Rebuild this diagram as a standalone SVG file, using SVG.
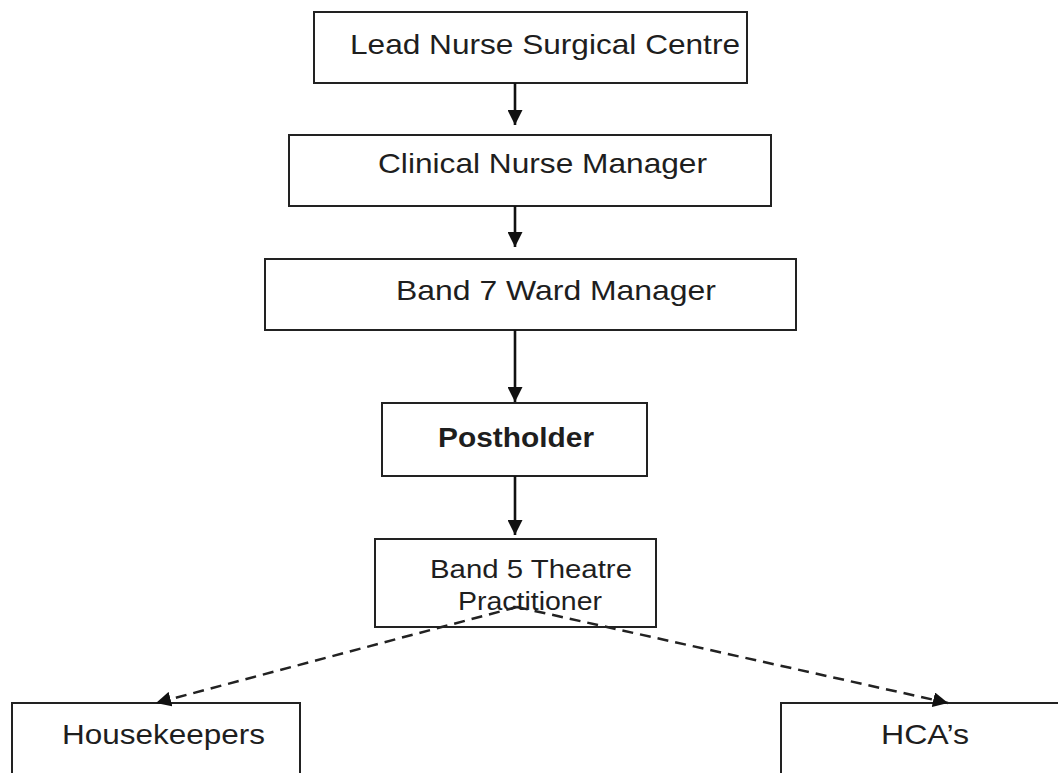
<svg xmlns="http://www.w3.org/2000/svg" width="1058" height="773" viewBox="0 0 1058 773">
<defs>
<style>
.box{fill:#fff;stroke:#222;stroke-width:2}
.t{font-family:"Liberation Sans",Arial,sans-serif;font-size:28px;fill:#1e1e1e}
.b{font-weight:bold}
.s{font-size:25px}
.solid{stroke:#111;stroke-width:2.6;fill:none}
.dash{stroke:#222;stroke-width:2.5;fill:none;stroke-dasharray:11 7}
</style>
<marker id="ah" viewBox="0 0 10 10" refX="10" refY="5" markerWidth="15" markerHeight="15" markerUnits="userSpaceOnUse" orient="auto">
<path d="M0,0 L10,5 L0,10 Z" fill="#111"/>
</marker>
</defs>
<rect width="1058" height="773" fill="#fff"/>
<g id="lead">
<rect class="box" x="314" y="12" width="433" height="71"/>
<text class="t" x="350" y="54" textLength="390" lengthAdjust="spacingAndGlyphs">Lead Nurse Surgical Centre</text>
</g>
<g id="cnm">
<rect class="box" x="289" y="135" width="482" height="71"/>
<text class="t" x="378" y="173" textLength="329" lengthAdjust="spacingAndGlyphs">Clinical Nurse Manager</text>
</g>
<g id="band7">
<rect class="box" x="265" y="259" width="531" height="71"/>
<text class="t" x="396" y="300" textLength="320" lengthAdjust="spacingAndGlyphs">Band 7 Ward Manager</text>
</g>
<g id="postholder">
<rect class="box" x="382" y="403" width="265" height="73"/>
<text class="t b" x="438" y="447" textLength="156" lengthAdjust="spacingAndGlyphs">Postholder</text>
</g>
<g id="band5">
<rect class="box" x="375" y="539" width="281" height="88"/>
<text class="t s" x="430" y="578" textLength="202" lengthAdjust="spacingAndGlyphs">Band 5 Theatre</text>
<text class="t s" x="458" y="610" textLength="144" lengthAdjust="spacingAndGlyphs">Practitioner</text>
</g>
<g id="housekeepers">
<rect class="box" x="12" y="703" width="288" height="90"/>
<text class="t" x="62" y="744" textLength="203" lengthAdjust="spacingAndGlyphs">Housekeepers</text>
</g>
<g id="hcas">
<rect class="box" x="781" y="703" width="300" height="90"/>
<text class="t" x="881" y="744" textLength="88" lengthAdjust="spacingAndGlyphs">HCA’s</text>
</g>
<g id="connectors">
<line class="solid" x1="515" y1="83" x2="515" y2="125" marker-end="url(#ah)"/>
<line class="solid" x1="515" y1="206" x2="515" y2="247" marker-end="url(#ah)"/>
<line class="solid" x1="515" y1="330" x2="515" y2="402" marker-end="url(#ah)"/>
<line class="solid" x1="515" y1="476" x2="515" y2="535" marker-end="url(#ah)"/>
<line class="dash" x1="517" y1="607" x2="156" y2="703" marker-end="url(#ah)"/>
<line class="dash" x1="517" y1="607" x2="948" y2="703" marker-end="url(#ah)"/>
</g>
</svg>
